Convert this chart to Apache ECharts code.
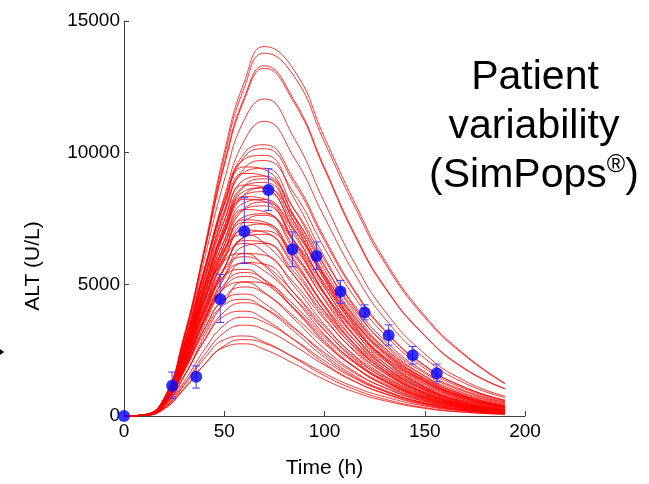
<!DOCTYPE html>
<html>
<head>
<meta charset="utf-8">
<script src="https://cdn.jsdelivr.net/npm/echarts@6/dist/echarts.min.js"></script>
<style>
html,body{margin:0;padding:0;background:#fff;}
#chart{width:649px;height:484px;}
</style>
</head>
<body>
<div id="chart"></div>
<script>
// Simulation time grid (h)
const hours = [0,10,20,30,40,50,60,70,85,100,115,130,150,170,190];

// Simulated ALT curves (U/L), one array per virtual patient
const sim01 = [0,40,630,2960,6350,10010,12690,14030,13110,10580,8110,5920,3810,2330,1240];
const sim02 = [0,40,620,2910,6230,9830,12470,13780,12880,10390,7960,5820,3740,2290,1220];
const sim03 = [0,40,670,3060,6250,9580,12100,13300,11970,9440,6920,4920,3060,1800,1040];
const sim04 = [0,40,660,3040,6200,9500,12010,13200,11880,9370,6860,4880,3040,1780,1030];
const sim05 = [0,50,670,2900,5930,8950,11250,12040,10530,8110,5810,3990,2360,1330,750];
const sim06 = [0,50,620,2700,5510,8330,10460,11190,9790,7540,5400,3710,2190,1240,700];
const sim07 = [0,40,620,2700,5510,8220,9980,10300,8940,6760,4780,3280,1920,1090,600];
const sim08 = [0,40,620,2670,5430,8100,9840,10150,8820,6660,4720,3230,1900,1080,590];
const sim09 = [0,40,650,2710,5530,8040,9750,9900,8240,6030,4120,2710,1510,780,400];
const sim10 = [0,40,590,2550,5190,7740,9410,9700,8430,6370,4510,3090,1810,1030,570];
const sim11 = [0,40,620,2580,5250,7640,9260,9410,7830,5730,3920,2580,1430,750,380];
const sim12 = [0,50,660,2730,5450,7800,9210,9120,7330,5170,3380,2120,1080,520,240];
const sim13 = [0,40,600,2500,5090,7400,8970,9110,7590,5550,3790,2500,1390,720,370];
const sim14 = [0,40,550,2370,4820,7190,8740,9010,7830,5920,4190,2870,1680,960,530];
const sim15 = [0,40,630,2600,5190,7430,8770,8680,6980,4920,3220,2010,1030,490,230];
const sim16 = [0,40,570,2380,4840,7040,8540,8670,7220,5280,3610,2380,1320,690,350];
const sim17 = [0,30,560,2340,4760,6920,8390,8520,7090,5190,3550,2340,1300,670,350];
const sim18 = [0,40,600,2470,4930,7060,8330,8250,6630,4680,3060,1910,980,470,220];
const sim19 = [0,30,540,2250,4590,6680,8100,8220,6850,5010,3420,2250,1250,650,330];
const sim20 = [0,30,490,2130,4350,6480,7870,8120,7050,5330,3770,2580,1520,860,480];
const sim21 = [0,40,560,2320,4640,6640,7840,7760,6240,4400,2880,1800,920,440,210];
const sim22 = [0,30,510,2110,4290,6240,7570,7680,6400,4680,3200,2110,1170,610,310];
const sim23 = [0,40,530,2200,4410,6310,7450,7370,5930,4180,2740,1710,870,420,200];
const sim24 = [0,30,480,2000,4070,5920,7180,7290,6070,4440,3030,2000,1110,580,300];
const sim25 = [0,40,500,2090,4180,5980,7060,6980,5620,3960,2590,1620,830,400,190];
const sim26 = [0,30,460,1890,3850,5600,6790,6900,5740,4200,2870,1890,1050,550,280];
const sim27 = [0,30,480,1970,3940,5640,6660,6600,5300,3740,2450,1530,780,370,180];
const sim28 = [0,40,590,2290,4390,6030,6550,6220,5040,3670,2490,1640,850,430,200];
const sim29 = [0,30,440,1830,3650,5230,6170,6110,4910,3470,2270,1420,720,350,160];
const sim30 = [0,40,540,2120,4050,5570,6050,5750,4660,3390,2300,1510,790,390,180];
const sim31 = [0,30,520,2030,3890,5340,5800,5510,4470,3250,2200,1450,750,380,170];
const sim32 = [0,40,560,2130,3980,5320,5570,5150,4030,2800,1850,1180,590,280,120];
const sim33 = [0,30,480,1860,3550,4880,5300,5040,4080,2970,2010,1330,690,340,160];
const sim34 = [0,40,510,1940,3620,4850,5080,4690,3670,2550,1680,1070,540,260,110];
const sim35 = [0,30,440,1720,3280,4510,4900,4660,3770,2740,1860,1230,640,320,150];
const sim36 = [0,30,470,1770,3300,4420,4630,4280,3350,2330,1530,980,490,230,100];
const sim37 = [0,30,390,1510,2880,3960,4300,4090,3310,2410,1630,1080,560,280,130];
const sim38 = [0,30,400,1520,2840,3800,3980,3680,2880,2000,1320,840,420,200,90];
const sim39 = [0,20,340,1310,2510,3450,3750,3560,2890,2100,1430,940,490,240,110];
const sim40 = [0,20,310,1210,2310,3170,3450,3280,2660,1930,1310,860,450,220,100];
const sim41 = [0,20,310,1160,2170,2900,3040,2810,2200,1530,1010,640,320,150,70];
const sim42 = [0,20,260,1020,1940,2670,2900,2760,2230,1620,1100,730,380,190,90];
const sim43 = [0,20,280,1050,1950,2610,2740,2530,1980,1380,910,580,290,140,60];
const sim44 = [0,50,680,2800,5600,8010,9460,9360,7530,5310,3470,2170,1110,530,250];
const sim45 = [0,40,590,2430,4950,7200,8730,8870,7380,5400,3690,2430,1350,700,360];
const sim46 = [0,40,530,2280,4640,6910,8400,8660,7530,5690,4030,2760,1620,920,510];
const sim47 = [0,40,590,2440,4870,6970,8230,8150,6550,4620,3020,1890,970,460,220];
const sim48 = [0,30,530,2190,4460,6480,7860,7980,6640,4860,3320,2190,1220,630,320];
const sim49 = [0,30,460,2000,4080,6080,7390,7620,6620,5010,3540,2430,1430,810,450];
const sim50 = [0,40,530,2180,4350,6230,7350,7280,5850,4130,2700,1690,860,410,200];
const sim51 = [0,30,430,1850,3760,5610,6820,7030,6110,4620,3270,2240,1310,750,410];
const sim52 = [0,40,620,2420,4620,6350,6900,6560,5310,3860,2620,1730,900,450,210];
const sim53 = [0,30,430,1800,3660,5320,6450,6550,5450,3990,2730,1800,1000,520,270];
const sim54 = [0,40,620,2360,4400,5890,6170,5700,4460,3100,2050,1300,650,310,140];
const sim55 = [0,30,420,1730,3450,4940,5830,5770,4640,3270,2140,1340,680,330,150];
const sim56 = [0,30,490,1910,3650,5010,5450,5180,4200,3050,2070,1360,710,350,160];
const sim57 = [0,30,360,1510,3020,4320,5100,5040,4060,2860,1870,1170,600,290,140];
const sim58 = [0,30,450,1690,3160,4230,4430,4090,3200,2230,1470,940,470,220,100];

const simCurves = [sim01,sim02,sim03,sim04,sim05,sim06,sim07,sim08,sim09,sim10,
  sim11,sim12,sim13,sim14,sim15,sim16,sim17,sim18,sim19,sim20,
  sim21,sim22,sim23,sim24,sim25,sim26,sim27,sim28,sim29,sim30,
  sim31,sim32,sim33,sim34,sim35,sim36,sim37,sim38,sim39,sim40,
  sim41,sim42,sim43,sim44,sim45,sim46,sim47,sim48,sim49,sim50,
  sim51,sim52,sim53,sim54,sim55,sim56,sim57,sim58];

// Observed data (mean and error bar limits)
const obsHours = [0,24,36,48,60,72,84,96,108,120,132,144,156];
const obsALT   = [0,1150,1490,4430,7020,8580,6330,6080,4730,3930,3070,2310,1620];
const obsLow   = [0,670,1060,3550,5790,7810,5670,5570,4280,3650,2690,1970,1300];
const obsHigh  = [0,1670,1900,5380,8290,9390,6990,6610,5150,4220,3460,2640,1970];

// Axis ticks
const xTicks = [0,50,100,150,200];
const yTicks = [0,5000,10000,15000];

const FONT = "'Liberation Sans', Arial, sans-serif";

const chart = echarts.init(document.getElementById('chart'), null, {renderer:'canvas'});

const series = simCurves.map(c => ({
  type: 'line',
  data: hours.map((h, i) => [h, c[i]]),
  smooth: 0.5,
  symbol: 'none',
  silent: true,
  lineStyle: {color: '#ff0000', width: 0.8},
  z: 2
}));

series.push({
  type: 'custom',
  silent: true,
  z: 3,
  data: obsHours.map((h, i) => [h, obsLow[i], obsHigh[i]]),
  encode: {x: 0, y: [1, 2]},
  renderItem: function (params, api) {
    const x = api.value(0), lo = api.value(1), hi = api.value(2);
    if (lo === hi) return null;
    const p1 = api.coord([x, lo]);
    const p2 = api.coord([x, hi]);
    const w = 4;
    const st = {stroke: '#3b3bff', lineWidth: 1};
    return {
      type: 'group',
      children: [
        {type: 'line', shape: {x1: p1[0], y1: p1[1], x2: p2[0], y2: p2[1]}, style: st},
        {type: 'line', shape: {x1: p1[0] - w, y1: p1[1], x2: p1[0] + w, y2: p1[1]}, style: st},
        {type: 'line', shape: {x1: p2[0] - w, y1: p2[1], x2: p2[0] + w, y2: p2[1]}, style: st}
      ]
    };
  }
});

series.push({
  type: 'scatter',
  silent: true,
  clip: false,
  z: 4,
  symbol: 'circle',
  symbolSize: 12,
  itemStyle: {color: '#0000ff'},
  data: obsHours.map((h, i) => [h, obsALT[i]])
});

const axisCommon = {
  axisLine: {show: true, lineStyle: {color: '#404040', width: 1}},
  axisTick: {show: true, inside: true, length: 5, lineStyle: {color: '#404040'}},
  splitLine: {show: false},
  axisLabel: {color: '#000', fontSize: 19, fontFamily: FONT, formatter: v => String(v)}
};

chart.setOption({
  animation: false,
  backgroundColor: '#ffffff',
  grid: {left: 124, right: 124, top: 21, bottom: 67, containLabel: false},
  xAxis: Object.assign({}, axisCommon, {
    type: 'value', min: xTicks[0], max: xTicks[xTicks.length - 1], interval: 50,
    name: 'Time (h)', nameLocation: 'middle', nameGap: 42,
    nameTextStyle: {color: '#000', fontSize: 21, fontFamily: FONT},
    axisLabel: Object.assign({}, axisCommon.axisLabel, {margin: 6})
  }),
  yAxis: Object.assign({}, axisCommon, {
    type: 'value', min: yTicks[0], max: yTicks[yTicks.length - 1], interval: 5000,
    axisLabel: Object.assign({}, axisCommon.axisLabel, {margin: 4})
  }),
  graphic: [
    {type: 'text', x: 33, y: 266, rotation: Math.PI / 2,
      style: {text: 'ALT (U/L)', fontSize: 21, fontFamily: FONT, fill: '#000', align: 'center', verticalAlign: 'middle'}},
    {type: 'text', x: 535, y: 78,
      style: {text: 'Patient', fontSize: 41, fontFamily: FONT, fill: '#000', align: 'center', verticalAlign: 'middle'}},
    {type: 'text', x: 534, y: 127,
      style: {text: 'variability', fontSize: 41, fontFamily: FONT, fill: '#000', align: 'center', verticalAlign: 'middle'}},
    {type: 'text', x: 534, y: 176,
      style: {
        text: '{a|(SimPops}{s|®}{a|)}',
        fontFamily: FONT, fill: '#000', align: 'center', verticalAlign: 'middle',
        rich: {
          a: {fontSize: 41, fontFamily: FONT, fill: '#000', lineHeight: 46},
          s: {fontSize: 25, fontFamily: FONT, fill: '#000', verticalAlign: 'top', lineHeight: 46, padding: [0, 0, 14, 0]}
        }
      }},
    {type: 'polygon', shape: {points: [[0, 349], [4, 352], [0, 355]]}, style: {fill: '#000'}}
  ],
  series: series
});
</script>
</body>
</html>
